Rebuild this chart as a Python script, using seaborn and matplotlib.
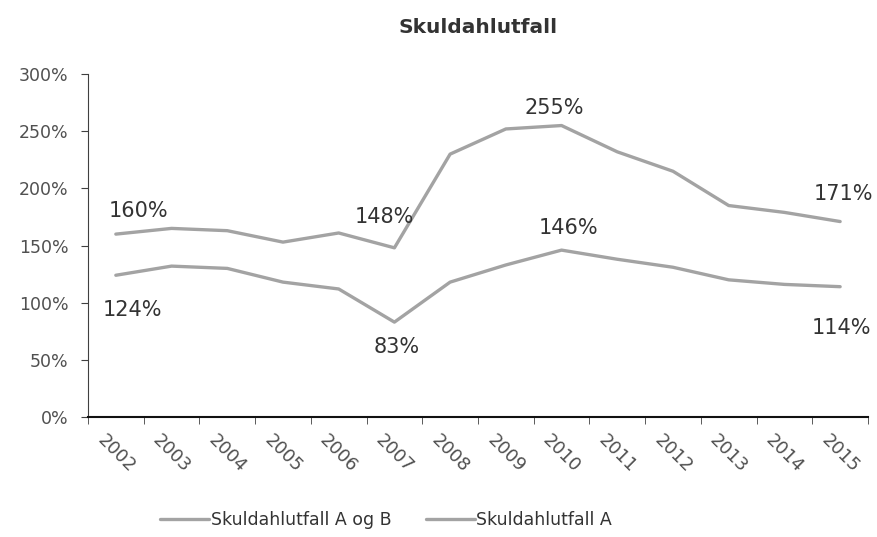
import pandas as pd
import matplotlib
matplotlib.use("Agg")
import matplotlib.pyplot as plt
from matplotlib.ticker import FuncFormatter, FixedLocator
import seaborn as sns

# Data (in percent)
years = [2002, 2003, 2004, 2005, 2006, 2007, 2008, 2009, 2010, 2011, 2012, 2013, 2014, 2015]
a_og_b = [160, 165, 163, 153, 161, 148, 230, 252, 255, 232, 215, 185, 179, 171]
a_only = [124, 132, 130, 118, 112, 83, 118, 133, 146, 138, 131, 120, 116, 114]
series_names = ["Skuldahlutfall A og B", "Skuldahlutfall A"]

pos = list(range(len(years)))
df = pd.DataFrame({
    "pos": pos * 2,
    "value": a_og_b + a_only,
    "serie": [series_names[0]] * len(years) + [series_names[1]] * len(years),
})

sns.set_style("white")
plt.rcParams["font.family"] = ["DejaVu Sans"]

fig = plt.figure(figsize=(8.78, 5.37), dpi=100)
ax = fig.add_axes([0.1002, 0.2235, 0.8884, 0.6385])

line_color = "#a3a3a3"
sns.lineplot(data=df, x="pos", y="value", hue="serie", palette=[line_color, line_color],
             linewidth=2.4, ax=ax, legend=False)

ax.set_xlim(-0.5, len(years) - 0.5)
ax.set_ylim(0, 300)
ax.set_yticks([0, 50, 100, 150, 200, 250, 300])
ax.yaxis.set_major_formatter(FuncFormatter(lambda v, p: f"{v:.0f}%"))
ax.tick_params(axis="y", labelsize=12.5, labelcolor="#505050", left=True, length=5,
               color="#404040", pad=9)

# category labels at centres, tick marks between categories
ax.set_xticks(pos)
ax.set_xticklabels([str(y) for y in years], rotation=-45, ha="center", va="top",
                   fontsize=13, color="#505050")
ax.tick_params(axis="x", which="major", length=0, pad=10)
ax.xaxis.set_minor_locator(FixedLocator([p - 0.5 for p in range(len(years) + 1)]))
ax.tick_params(axis="x", which="minor", bottom=True, length=5, color="#404040")
ax.set_xlabel("")
ax.set_ylabel("")

for s in ["top", "right"]:
    ax.spines[s].set_visible(False)
ax.spines["left"].set_color("#404040")
ax.spines["bottom"].set_color("#111111")
ax.spines["bottom"].set_linewidth(1.5)

# data labels (index, series, offset in pixels)
labels = [
    (0, a_og_b, (23, 23)), (0, a_only, (17, -35)),
    (5, a_og_b, (-10, 31)), (5, a_only, (2, -25)),
    (8, a_og_b, (-7, 18)), (8, a_only, (7, 22)),
    (13, a_og_b, (3, 28)), (13, a_only, (1, -41)),
]
for i, vals, off in labels:
    ax.annotate(f"{vals[i]}%", (pos[i], vals[i]), xytext=off, textcoords="offset pixels",
                ha="center", va="center", fontsize=15, color="#333333")

ax.set_title("Skuldahlutfall", fontsize=14.5, fontweight="bold", color="#333333", y=1.095)

handles = [plt.Line2D([], [], color=line_color, linewidth=2.4) for _ in series_names]
fig.legend(handles, series_names, loc="lower center", ncol=2, frameon=False, fontsize=12.5,
           handlelength=2.8, handletextpad=0.1, columnspacing=2.0,
           bbox_to_anchor=(0.44, -0.015), labelcolor="#333333")

fig.savefig("out.png", dpi=100)
